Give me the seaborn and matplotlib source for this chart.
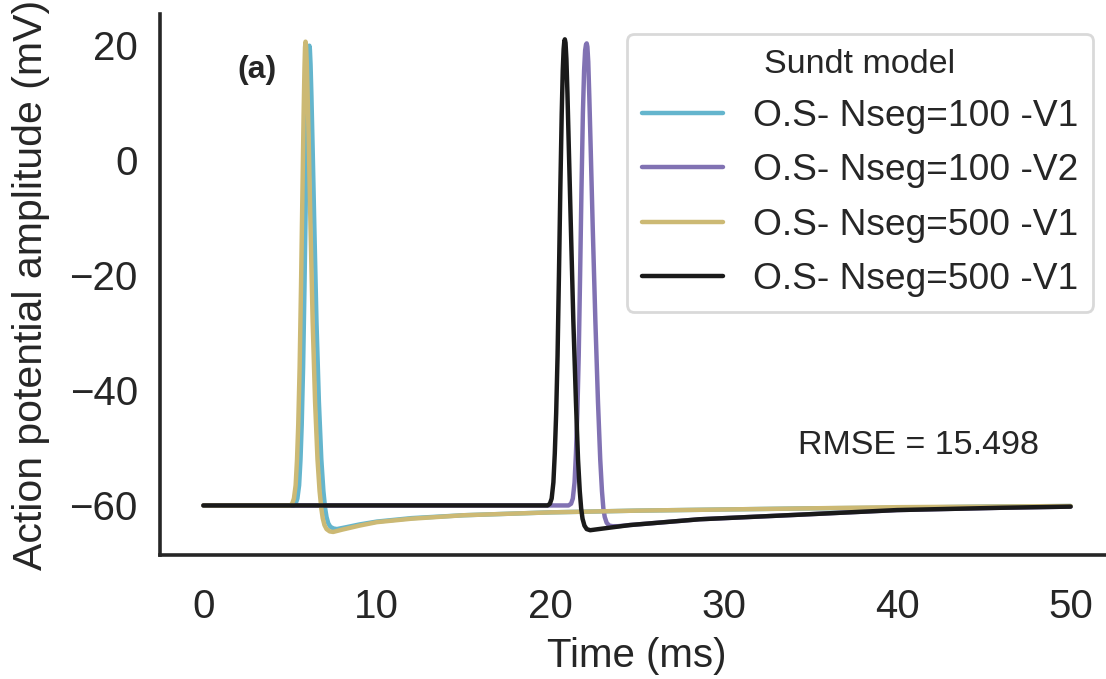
import numpy as np
import pandas as pd
import matplotlib
matplotlib.use("Agg")
import matplotlib.pyplot as plt
import seaborn as sns

# Membrane potential traces (time in ms, voltage in mV)
t_100_v1 = [0, 5.2, 5.32, 5.42, 5.52, 5.6, 5.67, 5.75, 5.83, 5.91, 5.98, 6.04, 6.08,
            6.11, 6.14, 6.18, 6.23, 6.3, 6.4, 6.52, 6.66, 6.8, 6.92, 7.02, 7.1,
            7.2, 7.32, 7.5, 7.7, 8.2, 9, 10, 12, 15, 20, 25, 30, 35, 40, 45, 50]
v_100_v1 = [-60, -60, -59.7, -58.8, -56.5, -52, -46, -36, -22, -6, 8, 16, 19,
            19.8, 19.2, 16.5, 11, 2, -12, -28, -42, -52, -57.5, -60.5, -62,
            -63.1, -63.7, -64.0, -64.1, -63.8, -63.3, -62.8, -62.2,
            -61.7, -61.2, -60.9, -60.7, -60.5, -60.4, -60.2, -60.1]

t_100_v2 = [0, 21.05, 21.2, 21.3, 21.4, 21.48, 21.56, 21.64, 21.72, 21.8, 21.88,
            21.95, 22.01, 22.06, 22.1, 22.14, 22.19, 22.25, 22.33, 22.45, 22.6,
            22.75, 22.88, 22.98, 23.06, 23.14, 23.25, 23.4, 23.6, 23.9, 24.6,
            28.6, 34.4, 40, 46, 50]
v_100_v2 = [-60, -60, -59.7, -58.8, -56, -51, -44, -34, -20, -5, 8, 15.5, 19,
            20.0, 20.2, 19.6, 17, 11, 2, -12, -28, -42, -52, -57.5, -60.5, -62,
            -63, -63.5, -63.6, -63.6, -63.4, -62.4, -61.6, -60.8, -60.4, -60.2]

t_500_v1 = [0, 5.0, 5.12, 5.22, 5.32, 5.4, 5.47, 5.55, 5.63, 5.71, 5.78, 5.83, 5.86,
            5.89, 5.92, 5.96, 6.01, 6.08, 6.18, 6.3, 6.44, 6.58, 6.7, 6.8, 6.88,
            6.98, 7.1, 7.28, 7.48, 8, 9, 10, 12, 15, 20, 25, 30, 35, 40, 45, 50]
v_500_v1 = [-60, -60, -59.7, -58.8, -56.5, -52, -46, -36, -22, -6, 8, 16, 19.5,
            20.5, 19.8, 17, 11.5, 2.5, -12, -28, -42, -52, -57.5, -60.5, -62.2,
            -63.4, -64.1, -64.5, -64.6, -64.2, -63.5, -62.9, -62.3,
            -61.7, -61.2, -60.9, -60.7, -60.5, -60.3, -60.2, -60.1]

t_500_v1b = [0, 19.85, 19.98, 20.08, 20.18, 20.26, 20.34, 20.42, 20.5, 20.58, 20.66,
             20.72, 20.77, 20.81, 20.84, 20.88, 20.93, 20.99, 21.07, 21.19, 21.33,
             21.48, 21.6, 21.7, 21.78, 21.86, 21.97, 22.1, 22.3, 22.8, 24.6,
             28.6, 34.4, 40, 46, 50]
v_500_v1b = [-60, -60, -59.7, -58.8, -56, -51, -44, -34, -20, -5, 8, 15.5, 19.2,
             20.6, 20.9, 20.3, 17.5, 11.5, 2, -12, -28, -42, -52, -57.5, -60.5,
             -62.3, -63.5, -64.1, -64.3, -64.1, -63.4, -62.4, -61.6, -60.8,
             -60.4, -60.2]

labels = ["O.S- Nseg=100 -V1", "O.S- Nseg=100 -V2",
          "O.S- Nseg=500 -V1", "O.S- Nseg=500 -V1"]
colors = ["#64B5CD", "#8172B3", "#CCB974", "#1a1a1a"]
x_ticks = [0, 10, 20, 30, 40, 50]
y_ticks = [-60, -40, -20, 0, 20]

sns.set_theme(style="white", context="poster")
plt.rcParams["font.family"] = ["Liberation Sans", "DejaVu Sans"]
plt.rcParams["axes.edgecolor"] = "#262626"
plt.rcParams["axes.linewidth"] = 2.6

fig = plt.figure(figsize=(11.06, 6.79), dpi=100)
ax = fig.add_axes([160 / 1106, (679 - 555) / 679, 954 / 1106, 541 / 679])

traces = [(t_100_v1, v_100_v1), (t_100_v2, v_100_v2),
          (t_500_v1, v_500_v1), (t_500_v1b, v_500_v1b)]
for (tt, vv), lab, col in zip(traces, labels, colors):
    df = pd.DataFrame({"Time (ms)": tt, "V": vv})
    sns.lineplot(data=df, x="Time (ms)", y="V", ax=ax, color=col, label=lab,
                 sort=False, estimator=None, linewidth=3.2)

ax.set_xlim(-2.5, 52.5)
ax.set_ylim(-68.6, 25.3)
ax.set_xticks(x_ticks)
ax.set_yticks(y_ticks)
ax.tick_params(axis="x", labelsize=29, length=0, pad=24)
ax.tick_params(axis="y", labelsize=29, length=0, pad=16)
ax.set_xlabel("Time (ms)", fontsize=29, labelpad=8)
ax.set_ylabel("Action potential amplitude (mV)", fontsize=29.5, labelpad=14)
sns.despine(ax=ax)

ax.text(0.1017, 0.8965, "(a)", transform=ax.transAxes, fontsize=23,
        fontweight="bold", ha="center", va="center", color="#262626")
ax.text(0.7946, 0.2015, "RMSE = 15.498", transform=ax.transAxes, fontsize=24.5,
        ha="center", va="center", color="#262626")

leg = ax.legend(title="Sundt model", loc="upper right",
                bbox_to_anchor=(1093 / 1106, 1 - 34 / 679),
                bbox_transform=fig.transFigure, borderaxespad=0,
                fontsize=26.7, title_fontsize=24.5, frameon=True,
                handlelength=2.2, handletextpad=0.8, labelspacing=0.52)
leg.get_frame().set_edgecolor("#d0d0d0")
leg.get_frame().set_linewidth(2.0)
for line in leg.get_lines():
    line.set_linewidth(3.2)

fig.savefig("out.png", dpi=100)
